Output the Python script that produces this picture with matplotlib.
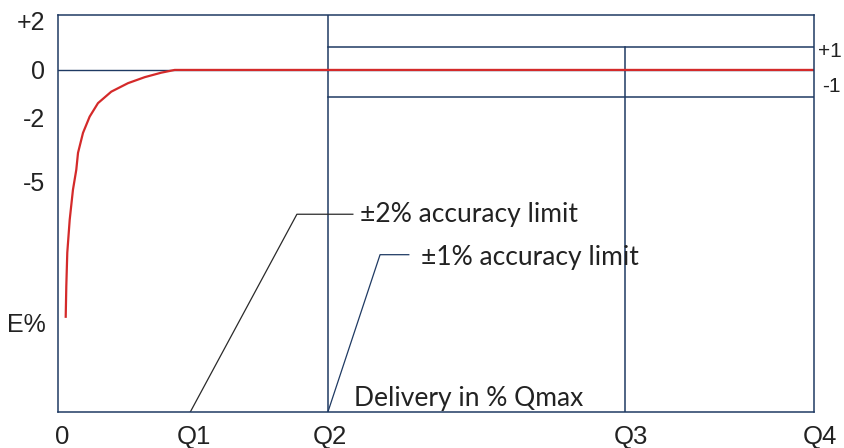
import matplotlib
matplotlib.use("Agg")
import matplotlib.pyplot as plt

# Positions along the delivery axis (0..100 = 0..Q4)
q_names = ["0", "Q1", "Q2", "Q3", "Q4"]
q_label_x = [0.5, 18.0, 36.0, 75.8, 100.8]
q1_x = 17.5
q2_x = 35.7
q3_x = 75.0

# Error axis (schematic, labels not linear)
y_tick_pos = [2.0, 0.0, -1.92, -4.48, -10.1]
y_tick_lab = ["+2", "0", "-2", "-5", "E%"]
band_hi = 0.93
band_lo = -1.07

# Meter error curve
curve_x = [1.02, 1.10, 1.23, 1.55, 1.98, 2.42, 2.65, 3.31, 4.19, 5.29, 7.05, 9.26, 11.47, 13.66, 15.44, 40.0, 100.0]
curve_y = [-9.93, -8.67, -7.32, -6.0, -4.8, -4.0, -3.32, -2.52, -1.87, -1.33, -0.87, -0.53, -0.29, -0.11, 0.0, 0.0, 0.0]

navy = "#1f3a63"
red = "#d42a2a"

fig = plt.figure(figsize=(8.44, 4.48), dpi=100)
ax = fig.add_axes([0.0687, 0.0804, 0.8958, 0.8861])
ax.set_xlim(0, 100)
ax.set_ylim(-13.7, 2.2)

for s in ax.spines.values():
    s.set_color(navy)
    s.set_linewidth(1.1)

# zero line and the +-1 band
ax.axhline(0, color=navy, lw=1.0)
ax.plot([q2_x, 100], [band_hi, band_hi], color=navy, lw=1.1)
ax.plot([q2_x, 100], [band_lo, band_lo], color=navy, lw=1.1)
ax.axvline(q2_x, color=navy, lw=1.1)
ax.plot([q3_x, q3_x], [-13.7, band_hi], color=navy, lw=1.1)

# error curve
ax.plot(curve_x, curve_y, color=red, lw=1.6, solid_capstyle="butt", solid_joinstyle="round")

ax.set_xticks([])
ax.set_yticks(y_tick_pos)
ax.set_yticklabels(y_tick_lab, family="Liberation Sans", fontsize=18, color="#222222")
ax.tick_params(axis="y", length=0, pad=9)

for name, xp in zip(q_names, q_label_x):
    ax.text(xp, -14.22, name, ha="center", va="top", family="Liberation Sans",
            fontsize=18.5, color="#222222", clip_on=False)

ax.text(100.5, 0.74, "+1", ha="left", va="center", family="Liberation Sans",
        fontsize=15, color="#222222", clip_on=False)
ax.text(101.1, -0.66, "-1", ha="left", va="center", family="Liberation Sans",
        fontsize=15, color="#222222", clip_on=False)

# leader lines for the accuracy limits
ax.plot([q1_x, 31.6, 39.0], [-13.7, -5.78, -5.78], color="#2a2a2a", lw=0.9)
ax.text(39.9, -5.78, "\u00b12% accuracy limit", ha="left", va="center", family="Lato",
        fontsize=19, color="#222222")
ax.plot([q2_x, 42.6, 46.4], [-13.7, -7.4, -7.4], color=navy, lw=0.9)
ax.text(48.0, -7.5, "\u00b11% accuracy limit", ha="left", va="center", family="Lato",
        fontsize=19, color="#222222")
ax.text(39.1, -13.15, "Delivery in % Qmax", ha="left", va="center", family="Lato",
        fontsize=19, color="#222222")

fig.savefig("out.png", dpi=100)
